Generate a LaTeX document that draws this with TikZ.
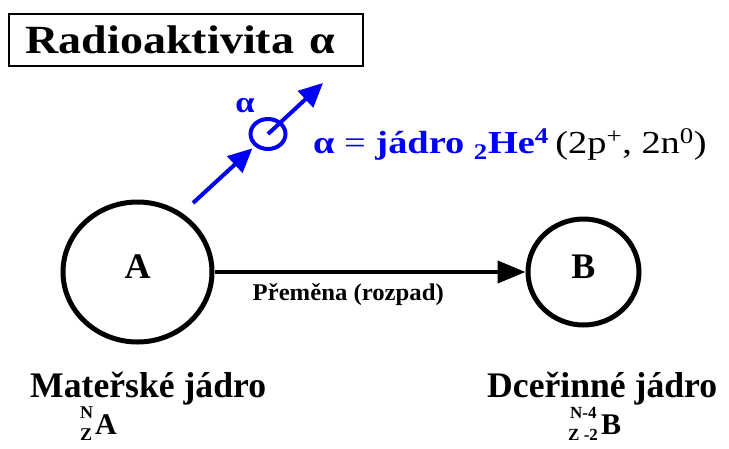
\documentclass[tikz,border=0pt]{standalone}
\usepackage{fontspec}
\setmainfont{Liberation Serif}
\usetikzlibrary{arrows.meta,shapes.geometric}
\definecolor{ablue}{RGB}{0,0,245}
\newcommand{\fs}[1]{\fontsize{#1}{#1}\selectfont}
\newcommand{\wide}[2]{\scalebox{#1}[1]{#2}}
\newcommand{\lift}[1]{\raisebox{5pt}[\height][0pt]{#1}}
\begin{document}
\begin{tikzpicture}[x=1pt,y=-1pt,
  nucleus/.style={draw, ellipse, line width=5pt, inner sep=0pt, font=\bfseries\fs{36}},
  bigarrow/.style={line width=4pt, -{Triangle[length=28pt,width=22pt]}},
  bluearrow/.style={ablue, line width=4pt, -{Triangle[length=24pt,width=22pt]}},
  txt/.style={anchor=base west, inner sep=0pt},
]
\useasboundingbox (0,0) rectangle (729,448);
\fill[white] (0,0) rectangle (729,448);

\node (title) [draw, line width=1.5pt, anchor=north west, minimum width=354pt, minimum height=52pt,
  text width=320pt, inner xsep=17pt, inner ysep=0pt, align=left, font=\bfseries\fs{40}]
  at (8,13) {\wide{1.15}{Radioaktivita α}};

\node (A) [nucleus, minimum width=149pt, minimum height=140pt] at (137.5,272) {\lift{A}};
\node (B) [nucleus, minimum width=111pt, minimum height=106pt] at (583.5,272) {\lift{B}};
\draw[bigarrow] (A) -- node[pos=0.43, anchor=base, yshift=-28pt, inner sep=0pt, font=\bfseries\fs{24}] (lab) {\wide{1.03}{Přeměna (rozpad)}} (B);

\node (alpha) [draw=ablue, ellipse, line width=4pt, minimum width=35pt, minimum height=30pt, inner sep=0pt] at (268,134) {};
\coordinate (s1) at (193,203);
\coordinate (e2) at (323,83);
\draw[bluearrow, shorten >=3pt] (s1) -- (alpha);
\draw[bluearrow] (alpha.center) -- (e2);
\node (alab) [text=ablue, inner sep=0pt, font=\bfseries\fs{30}] at (245,106) {\wide{1.15}{α}};

\node (def) [txt, font=\fs{32}] at (313,153) {\wide{1.2}{\textcolor{ablue}{\textbf{α} = \textbf{jádro} \textbf{\textsubscript{2}He\textsuperscript{4}}}\,(2p\textsuperscript{+}, 2n\textsuperscript{0})}};

\node (mat) [txt, text depth=0pt, font=\bfseries\fs{36}] at (30,397) {\wide{0.99}{Mateřské jádro}};
\node (dce) [txt, text depth=0pt, font=\bfseries\fs{36}] at (487,397) {\wide{0.99}{Dceřinné jádro}};
\node (nA) [txt, font=\bfseries\fs{18}] at (80,418) {N};
\node (zA) [txt, font=\bfseries\fs{18}] at (80,440) {Z};
\node (sA) [txt, font=\bfseries\fs{30}] at (95,434) {A};
\node (nB) [txt, font=\bfseries\fs{17}] at (570,418) {N-4};
\node (zB) [txt, font=\bfseries\fs{17}] at (568,440) {Z -2};
\node (sB) [txt, font=\bfseries\fs{30}] at (601,434) {B};
\end{tikzpicture}
\end{document}
